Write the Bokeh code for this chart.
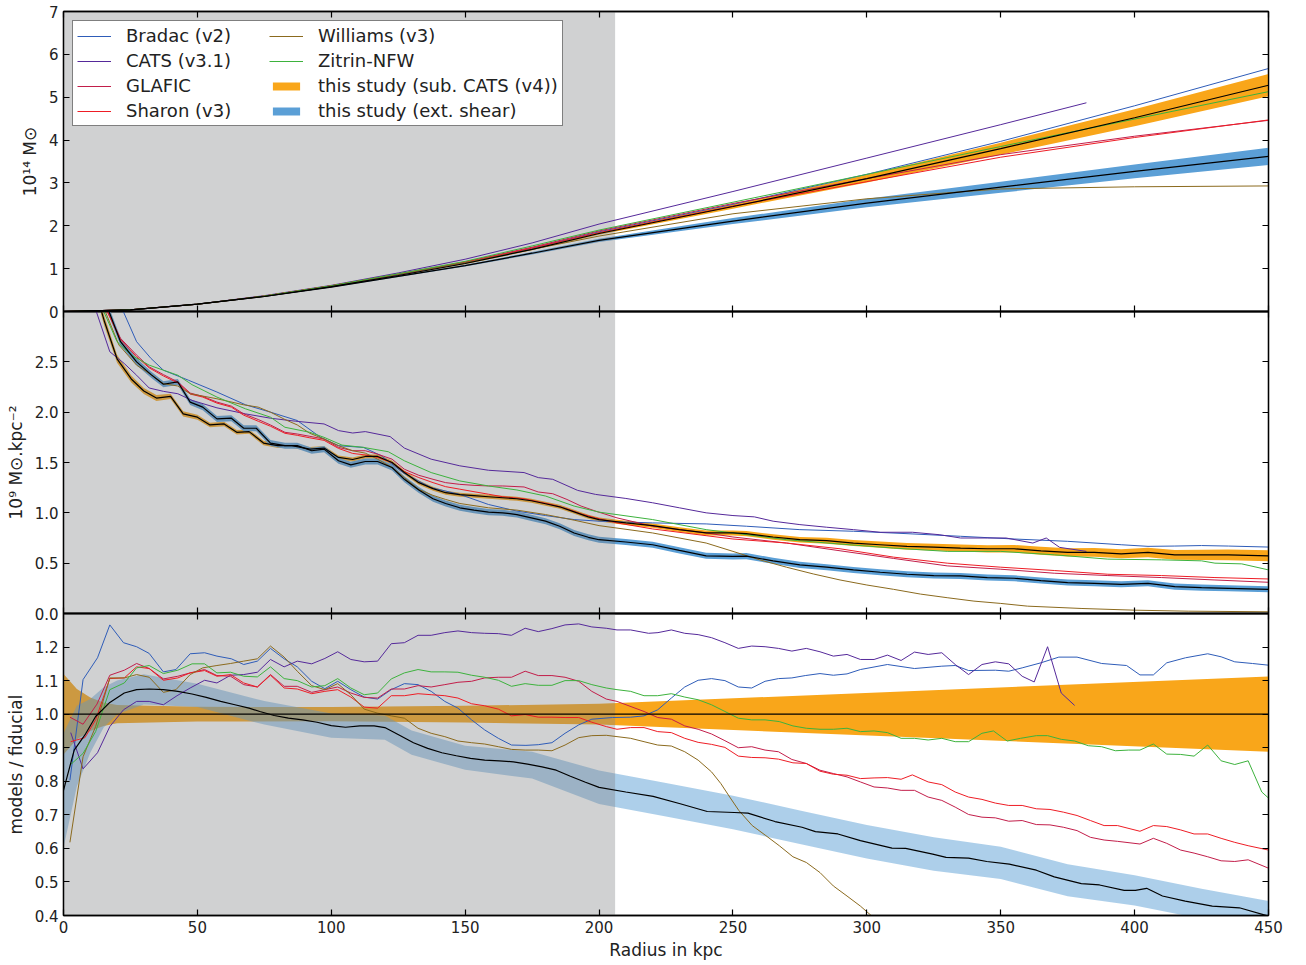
from bokeh.plotting import figure
from bokeh.models import (Range1d, LinearAxis, FixedTicker, Legend, LegendItem, PrintfTickFormatter,
                          CustomJSTickFormatter)
from bokeh.layouts import column
from bokeh.embed import file_html
from bokeh.resources import INLINE

# ---------------- data ----------------
X_TICKS = [0, 50, 100, 150, 200, 250, 300, 350, 400, 450]
SHADE_R = 206  # kpc, edge of the shaded inner region

TOP_Y = (0, 7)
TOP_TICKS = [0, 1, 2, 3, 4, 5, 6, 7]
MID_Y = (0, 3)
MID_TICKS = [0, 0.5, 1.0, 1.5, 2.0, 2.5]
BOT_Y = (0.4, 1.3)
BOT_TICKS = [0.4, 0.5, 0.6, 0.7, 0.8, 0.9, 1.0, 1.1, 1.2]

# --- top panel: enclosed mass (1e14 Msun) ---
R_TOP = [0, 25, 50, 75, 100, 125, 150, 175, 200, 250, 300, 350, 400, 450]
R_TOP_CATS = [0, 25, 50, 75, 100, 125, 150, 175, 200, 250, 300, 350, 382]
BRADAC_M = [0, 0.04, 0.17, 0.36, 0.59, 0.86, 1.14, 1.48, 1.86, 2.5, 3.2, 3.97, 4.8, 5.67]
CATS_M = [0, 0.04, 0.17, 0.37, 0.61, 0.9, 1.22, 1.6, 2.04, 2.8, 3.58, 4.36, 4.87]
GLAFIC_M = [0, 0.04, 0.17, 0.36, 0.6, 0.87, 1.16, 1.5, 1.88, 2.52, 3.1, 3.66, 4.09, 4.46]
SHARON_M = [0, 0.04, 0.17, 0.36, 0.6, 0.87, 1.15, 1.48, 1.84, 2.46, 3.03, 3.6, 4.06, 4.47]
WILLIAMS_M = [0, 0.04, 0.17, 0.36, 0.6, 0.87, 1.14, 1.45, 1.76, 2.28, 2.63, 2.86, 2.91, 2.93]
ZITRIN_M = [0, 0.04, 0.17, 0.36, 0.6, 0.88, 1.17, 1.53, 1.9, 2.55, 3.2, 3.85, 4.49, 5.13]
FID_M = [0, 0.04, 0.17, 0.35, 0.58, 0.84, 1.12, 1.45, 1.82, 2.45, 3.1, 3.8, 4.52, 5.28]
FID_M_ERR = [0, 0.003, 0.005, 0.008, 0.01, 0.013, 0.017, 0.022, 0.03, 0.05, 0.09, 0.14, 0.2, 0.26]
EXT_M = [0, 0.04, 0.17, 0.35, 0.57, 0.82, 1.07, 1.36, 1.66, 2.11, 2.53, 2.9, 3.27, 3.62]
EXT_M_ERR = [0, 0.003, 0.005, 0.008, 0.012, 0.016, 0.022, 0.03, 0.04, 0.07, 0.1, 0.13, 0.16, 0.2]

# --- middle panel: surface density (1e9 Msun/kpc^2), (r, value) ---
BRADAC_S = [(22, 3.02), (27.3, 2.7), (32.7, 2.533), (37.3, 2.417), (46.7, 2.317), (57.3, 2.2), (68, 2.073),
            (77.3, 2.0), (87.3, 1.917), (96, 1.75), (102.7, 1.667), (112, 1.65), (118.7, 1.567), (126.7, 1.4),
            (137.3, 1.25), (148, 1.183), (158.7, 1.083), (169.3, 1.017), (180, 0.973), (190.7, 0.933),
            (200, 0.917), (220, 0.9), (240, 0.89), (255, 0.867), (275, 0.833), (295, 0.817), (315, 0.793),
            (335, 0.767), (355, 0.74), (375, 0.717), (395, 0.683), (405, 0.667), (415, 0.67), (425, 0.675),
            (435, 0.67), (450, 0.66)]
CATS_S = [(12, 3.02), (17.3, 2.6), (22.7, 2.483), (27.3, 2.367), (32, 2.24), (37.3, 2.207), (42.7, 2.183),
          (48, 2.117), (57.3, 2.043), (68, 1.983), (77.3, 1.94), (86.7, 1.91), (97.3, 1.883), (102.7, 1.817),
          (108, 1.793), (112.7, 1.807), (122, 1.757), (127.3, 1.643), (137.3, 1.533), (148, 1.467),
          (158.7, 1.423), (172, 1.4), (177.3, 1.35), (182.7, 1.333), (192, 1.223), (198.7, 1.183),
          (210, 1.143), (220, 1.1), (230, 1.05), (240, 1.0), (250, 0.973), (258, 0.96), (265, 0.917),
          (275, 0.883), (285, 0.857), (295, 0.833), (305, 0.807), (317, 0.807), (327, 0.783), (335, 0.75),
          (345, 0.75), (352, 0.75), (362, 0.7), (367, 0.75), (372, 0.657), (382, 0.617)]
GLAFIC_S = [(16, 3.02), (21.3, 2.733), (27.3, 2.567), (32, 2.45), (37.3, 2.373), (42.7, 2.3), (47.3, 2.19),
            (52, 2.157), (57.3, 2.1), (62.7, 2.06), (67.3, 1.983), (72.7, 1.927), (77.3, 1.873), (82.7, 1.8),
            (87.3, 1.783), (92, 1.76), (97.3, 1.733), (102.7, 1.65), (108, 1.617), (112.7, 1.617),
            (117.3, 1.583), (122.7, 1.533), (127.3, 1.433), (132.7, 1.373), (138, 1.333), (142.7, 1.3),
            (148, 1.283), (153.3, 1.273), (158.7, 1.267), (164, 1.267), (172, 1.257), (177.3, 1.207),
            (182.7, 1.19), (188, 1.133), (193.3, 1.067), (198.7, 1.017), (206.7, 0.95), (220, 0.867),
            (240, 0.8), (250, 0.76), (270, 0.7), (290, 0.623), (310, 0.547), (330, 0.473), (350, 0.44),
            (370, 0.4), (390, 0.377), (410, 0.357), (430, 0.333), (450, 0.31)]
SHARON_S = [(16, 3.02), (21.3, 2.72), (27.3, 2.55), (32, 2.44), (37.3, 2.36), (42.7, 2.29), (47.3, 2.18),
            (52, 2.15), (57.3, 2.09), (62.7, 2.05), (67.3, 1.97), (72.7, 1.91), (77.3, 1.86), (82.7, 1.79),
            (87.3, 1.77), (92, 1.745), (97.3, 1.72), (102.7, 1.64), (108, 1.59), (112.7, 1.575),
            (117.3, 1.55), (122.7, 1.5), (127.3, 1.41), (132.7, 1.35), (138, 1.3), (142.7, 1.26),
            (148, 1.235), (153.3, 1.21), (158.7, 1.185), (164, 1.16), (172, 1.14), (177.3, 1.11),
            (182.7, 1.08), (188, 1.04), (193.3, 0.99), (198.7, 0.95), (206.7, 0.9), (220, 0.84),
            (240, 0.773), (250, 0.74), (270, 0.7), (290, 0.643), (310, 0.56), (330, 0.5), (350, 0.46),
            (370, 0.427), (390, 0.39), (410, 0.377), (430, 0.357), (450, 0.343)]
WILLIAMS_S = [(15.3, 3.02), (20.7, 2.667), (27.3, 2.467), (32.7, 2.373), (37.3, 2.283), (42.7, 2.26),
              (47.3, 2.183), (52, 2.16), (57.3, 2.133), (67.3, 2.073), (72.7, 2.05), (77.3, 2.0),
              (82.7, 1.927), (87.3, 1.873), (92, 1.79), (97.3, 1.733), (102.7, 1.667), (108, 1.617),
              (112.7, 1.593), (117.3, 1.533), (122.7, 1.45), (127.3, 1.35), (132.7, 1.233), (138, 1.173),
              (142.7, 1.133), (148, 1.093), (158.7, 1.05), (169.3, 1.027), (180, 0.983), (190.7, 0.927),
              (200, 0.873), (220, 0.8), (240, 0.7), (250, 0.617), (260, 0.533), (270, 0.46), (280, 0.393),
              (290, 0.333), (300, 0.283), (310, 0.24), (320, 0.193), (330, 0.157), (340, 0.123),
              (350, 0.1), (360, 0.073), (380, 0.05), (400, 0.033), (420, 0.023), (450, 0.017)]
ZITRIN_S = [(14.7, 3.02), (20, 2.7), (25.3, 2.567), (32, 2.467), (37.3, 2.417), (42.7, 2.367), (48, 2.273),
            (57.3, 2.15), (68, 2.033), (77.3, 1.95), (82.7, 1.85), (92, 1.8), (97.3, 1.75), (104, 1.673),
            (112, 1.65), (121.3, 1.607), (127.3, 1.517), (137.3, 1.4), (148, 1.317), (158.7, 1.267),
            (169.3, 1.227), (180, 1.167), (190.7, 1.067), (200, 1.007), (220, 0.933), (240, 0.833),
            (250, 0.8), (270, 0.733), (290, 0.69), (310, 0.65), (330, 0.617), (350, 0.617), (370, 0.583),
            (390, 0.54), (410, 0.533), (425, 0.523), (430, 0.5), (440, 0.493), (450, 0.433)]
# (r, value, band half-width)
FID_S = [(14, 3.02, 0.05), (15.3, 2.9, 0.05), (20, 2.53, 0.04), (25.3, 2.33, 0.035), (30, 2.21, 0.03),
         (34.7, 2.14, 0.03), (40, 2.157, 0.025), (44.7, 1.983, 0.025), (50, 1.95, 0.025), (54.7, 1.873, 0.022),
         (60, 1.883, 0.022), (64.7, 1.8, 0.022), (69.3, 1.807, 0.022), (74.7, 1.693, 0.022), (80, 1.667, 0.022),
         (85.3, 1.667, 0.022), (92, 1.633, 0.02), (97.3, 1.643, 0.02), (102.7, 1.55, 0.02), (108, 1.53, 0.02),
         (112.7, 1.56, 0.02), (117.3, 1.56, 0.02), (122.7, 1.5, 0.02), (127.3, 1.4, 0.02), (132.7, 1.3, 0.02),
         (138, 1.24, 0.02), (142.7, 1.2, 0.02), (148, 1.18, 0.02), (153.3, 1.17, 0.02), (158.7, 1.16, 0.02),
         (164, 1.15, 0.02), (169.3, 1.14, 0.02), (174.7, 1.12, 0.02), (180, 1.09, 0.02), (185.3, 1.06, 0.02),
         (190.7, 1.01, 0.02), (196, 0.96, 0.02), (200, 0.933, 0.02), (210, 0.9, 0.021), (220, 0.873, 0.022),
         (230, 0.833, 0.023), (240, 0.8, 0.024), (250, 0.8, 0.025), (255, 0.793, 0.026), (265, 0.76, 0.027),
         (275, 0.733, 0.028), (285, 0.723, 0.029), (295, 0.7, 0.03), (305, 0.683, 0.031), (315, 0.667, 0.033),
         (325, 0.66, 0.034), (335, 0.65, 0.035), (345, 0.643, 0.036), (355, 0.643, 0.038), (365, 0.623, 0.04),
         (375, 0.607, 0.041), (385, 0.607, 0.043), (395, 0.593, 0.045), (405, 0.607, 0.047),
         (415, 0.583, 0.049), (425, 0.583, 0.051), (435, 0.583, 0.053), (450, 0.573, 0.055)]
EXT_S = [(16.7, 3.02, 0.045), (21.3, 2.7, 0.04), (27.3, 2.5, 0.035), (32.7, 2.373, 0.03), (37.3, 2.277, 0.03),
         (42.7, 2.3, 0.03), (47.3, 2.1, 0.03), (52, 2.05, 0.03), (57.3, 1.933, 0.03), (62.7, 1.94, 0.03),
         (67.3, 1.84, 0.03), (72, 1.84, 0.03), (77.3, 1.693, 0.03), (82.7, 1.667, 0.03), (87.3, 1.667, 0.03),
         (92.7, 1.617, 0.03), (97.3, 1.633, 0.03), (102.7, 1.517, 0.03), (107.3, 1.477, 0.03),
         (112.7, 1.51, 0.03), (117.3, 1.51, 0.03), (122.7, 1.45, 0.03), (127.3, 1.333, 0.03),
         (132.7, 1.227, 0.03), (138, 1.14, 0.03), (142.7, 1.093, 0.03), (148, 1.05, 0.03), (153.3, 1.027, 0.03),
         (158.7, 1.007, 0.03), (164, 1.0, 0.03), (169.3, 0.983, 0.03), (174.7, 0.95, 0.03), (180, 0.917, 0.03),
         (185.3, 0.867, 0.03), (190.7, 0.8, 0.03), (196, 0.757, 0.03), (200, 0.733, 0.03), (210, 0.71, 0.03),
         (220, 0.683, 0.03), (230, 0.627, 0.03), (240, 0.573, 0.03), (250, 0.567, 0.03), (255, 0.57, 0.03),
         (265, 0.523, 0.03), (275, 0.483, 0.03), (285, 0.46, 0.03), (295, 0.433, 0.03), (305, 0.41, 0.03),
         (315, 0.39, 0.03), (325, 0.377, 0.03), (335, 0.373, 0.03), (345, 0.357, 0.03), (355, 0.35, 0.03),
         (365, 0.327, 0.03), (375, 0.307, 0.03), (385, 0.3, 0.03), (395, 0.29, 0.03), (405, 0.3, 0.03),
         (415, 0.267, 0.03), (425, 0.257, 0.03), (435, 0.25, 0.03), (450, 0.24, 0.03)]

# --- bottom panel: ratio models / fiducial, (r, value) ---
BRADAC_Q = [(2.4, 0.803), (7.3, 1.103), (12.7, 1.168), (17.3, 1.266), (22.4, 1.213), (27.3, 1.201), (32, 1.181),
            (37.3, 1.126), (42, 1.133), (47.3, 1.18), (52.7, 1.183), (57.3, 1.173), (62.7, 1.165), (67.3, 1.148),
            (72.4, 1.158), (77.3, 1.196), (82.4, 1.165), (87.3, 1.141), (92.7, 1.098), (97.6, 1.076),
            (102.4, 1.098), (107.3, 1.073), (112.3, 1.051), (117.3, 1.045), (122.4, 1.073), (127.3, 1.091),
            (132.4, 1.088), (137.3, 1.068), (142.4, 1.038), (147.3, 1.018), (152.4, 0.983), (157.3, 0.953),
            (162.4, 0.928), (167.3, 0.908), (172.7, 0.907), (177.3, 0.909), (182.4, 0.915), (187.3, 0.943),
            (192.4, 0.968), (197.3, 0.985), (205, 0.99), (211.8, 0.991), (216.8, 0.995), (221.9, 1.013),
            (227, 1.048), (232, 1.081), (237, 1.101), (242, 1.106), (247, 1.1), (252, 1.081), (257, 1.078),
            (262, 1.098), (267, 1.106), (272, 1.108), (277, 1.115), (282.5, 1.121), (287.5, 1.116),
            (292.6, 1.12), (297.6, 1.133), (307.7, 1.148), (317.8, 1.136), (328, 1.143), (333, 1.145),
            (338, 1.13), (348, 1.131), (353, 1.128), (358, 1.138), (365, 1.153), (371.7, 1.17), (378.5, 1.17),
            (387.7, 1.151), (397, 1.145), (402, 1.117), (407, 1.117), (412, 1.153), (419, 1.168),
            (427.3, 1.18), (432.3, 1.171), (437.4, 1.156), (444, 1.151), (450, 1.146)]
CATS_Q = [(2.7, 0.945), (7.3, 0.837), (12.7, 0.885), (17.3, 0.963), (22.4, 1.013), (27.3, 1.038), (32, 1.038),
          (37.3, 1.028), (42.4, 1.055), (47.3, 1.078), (52.7, 1.101), (57.3, 1.093), (62.4, 1.116),
          (67.3, 1.118), (72.4, 1.125), (77.3, 1.163), (82.4, 1.141), (87.3, 1.158), (92.7, 1.15),
          (97.6, 1.166), (102.4, 1.186), (107.3, 1.163), (112.3, 1.156), (117.3, 1.158), (122.4, 1.21),
          (127.3, 1.213), (132.4, 1.235), (137.3, 1.235), (142.4, 1.243), (147.3, 1.248), (152.4, 1.243),
          (157.3, 1.241), (162.4, 1.24), (167.3, 1.235), (172.4, 1.256), (177.3, 1.246), (182.4, 1.255),
          (187.3, 1.266), (192.4, 1.269), (197.3, 1.26), (202.7, 1.256), (206.7, 1.251), (211.8, 1.251),
          (218.5, 1.241), (222, 1.243), (227, 1.251), (232, 1.241), (237, 1.237), (242, 1.228), (247, 1.213),
          (252, 1.196), (257, 1.203), (262, 1.201), (267, 1.196), (272, 1.188), (277.4, 1.196),
          (282.5, 1.186), (287.5, 1.173), (292.6, 1.178), (297.6, 1.163), (302.7, 1.163), (307.7, 1.176),
          (312.8, 1.16), (317.8, 1.185), (322.9, 1.178), (328, 1.183), (333, 1.148), (338, 1.118),
          (343, 1.148), (348, 1.156), (353, 1.15), (358, 1.113), (362.5, 1.096), (367.5, 1.201),
          (372.6, 1.063), (377.6, 1.026)]
GLAFIC_Q = [(2.4, 0.991), (7.3, 0.97), (12.5, 1.03), (17.3, 1.116), (22.7, 1.131), (27.3, 1.151), (32, 1.136),
            (37.3, 1.105), (42.7, 1.113), (47.3, 1.123), (52.7, 1.133), (57.3, 1.115), (62.4, 1.113),
            (67.3, 1.088), (72.4, 1.081), (77.3, 1.118), (82.4, 1.083), (87.3, 1.083), (92.7, 1.065),
            (97.6, 1.073), (102.4, 1.081), (107.3, 1.063), (112.3, 1.05), (117.3, 1.048), (122.4, 1.075),
            (127.3, 1.075), (132.4, 1.085), (137.3, 1.081), (142.4, 1.088), (147.3, 1.095), (152.4, 1.098),
            (157.3, 1.108), (162.4, 1.11), (167.3, 1.11), (172.4, 1.128), (177.3, 1.115), (182.4, 1.115),
            (187.3, 1.11), (192.4, 1.098), (197.3, 1.068), (202.7, 1.045), (206.7, 1.038), (216.8, 1.008),
            (221.9, 0.99), (227, 0.985), (232, 0.965), (237, 0.955), (242, 0.941), (247, 0.921), (252, 0.9),
            (257, 0.903), (262, 0.893), (267, 0.888), (272, 0.865), (277.4, 0.853), (282.5, 0.833),
            (287.5, 0.823), (292.6, 0.813), (297.6, 0.798), (302.7, 0.783), (307.7, 0.78), (312.8, 0.773),
            (317.8, 0.773), (322.9, 0.753), (328, 0.743), (333, 0.723), (338, 0.701), (343, 0.693),
            (348, 0.691), (353, 0.681), (358, 0.683), (363.3, 0.671), (368.4, 0.67), (373.4, 0.663),
            (378.5, 0.653), (383.5, 0.633), (388.6, 0.625), (393.6, 0.621), (402, 0.613), (407, 0.63),
            (412, 0.615), (417.2, 0.595), (422.2, 0.586), (427.3, 0.575), (432.3, 0.563), (437.4, 0.561),
            (442.4, 0.566), (450, 0.541)]
SHARON_Q = [(2.7, 0.918), (8, 0.93), (12, 0.983), (17.3, 1.106), (22.7, 1.108), (27.3, 1.141), (32, 1.136),
            (37.3, 1.101), (42.7, 1.108), (47.3, 1.123), (52.7, 1.13), (57.3, 1.113), (62.4, 1.118),
            (67.3, 1.093), (72.4, 1.081), (77.3, 1.116), (82.4, 1.078), (87.3, 1.075), (92.7, 1.061),
            (97.6, 1.068), (102.4, 1.073), (107.3, 1.051), (112.3, 1.021), (117.3, 1.018), (122.4, 1.055),
            (127.3, 1.055), (132.4, 1.061), (137.3, 1.058), (142.4, 1.055), (147.3, 1.048), (152.4, 1.031),
            (157.3, 1.025), (162.4, 1.015), (167.3, 0.995), (172.4, 0.999), (177.3, 0.991), (182.4, 0.991),
            (187.3, 0.99), (192.4, 0.99), (197.3, 0.976), (202.7, 0.963), (206.7, 0.955), (211.8, 0.96),
            (216.8, 0.96), (221.9, 0.948), (227, 0.945), (232, 0.928), (237, 0.916), (242, 0.91), (247, 0.901),
            (252, 0.875), (257, 0.871), (262, 0.87), (267, 0.866), (272.4, 0.855), (277.4, 0.853),
            (282.5, 0.83), (287.5, 0.821), (292.6, 0.818), (297.6, 0.808), (302.7, 0.81), (307.7, 0.811),
            (312.8, 0.806), (317, 0.819), (322.9, 0.798), (328, 0.79), (333, 0.768), (338, 0.753),
            (343, 0.746), (348, 0.735), (353, 0.728), (358, 0.728), (363.3, 0.718), (368.4, 0.716),
            (373.4, 0.708), (378.5, 0.698), (383.5, 0.683), (388.6, 0.668), (393.6, 0.668), (402, 0.651),
            (407, 0.668), (412, 0.665), (417.2, 0.655), (422.2, 0.643), (427.3, 0.643), (432.3, 0.63),
            (437.4, 0.618), (442.4, 0.608), (450, 0.595)]
WILLIAMS_Q = [(2.4, 0.618), (7.3, 0.873), (12, 0.963), (17.3, 1.108), (22.7, 1.108), (27.3, 1.118), (32, 1.11),
              (37.3, 1.065), (42, 1.073), (47.3, 1.118), (52, 1.138), (57.3, 1.145), (62.4, 1.151),
              (67.3, 1.158), (72.4, 1.165), (77.3, 1.203), (82.4, 1.17), (87.3, 1.128), (92.7, 1.085),
              (97.6, 1.073), (102.4, 1.091), (107.3, 1.058), (112.3, 1.015), (117.3, 1.003), (122.4, 0.995),
              (127.3, 0.988), (132.4, 0.958), (137.3, 0.943), (142.4, 0.933), (147.3, 0.92), (152.4, 0.915),
              (157.3, 0.911), (162.4, 0.903), (167.3, 0.895), (172.4, 0.893), (177.3, 0.893), (182.4, 0.891),
              (187.3, 0.908), (192.4, 0.93), (197.3, 0.936), (202.7, 0.937), (211.8, 0.928), (216.8, 0.918),
              (221.9, 0.908), (227, 0.905), (232, 0.888), (237, 0.863), (242, 0.828), (245.5, 0.793),
              (248.8, 0.753), (252.2, 0.713), (257.2, 0.668), (262.3, 0.638), (267.3, 0.608), (272.4, 0.575),
              (277.4, 0.558), (282.5, 0.528), (287.5, 0.488), (292.6, 0.458), (297.6, 0.428), (301.9, 0.398)]
ZITRIN_Q = [(2.4, 0.848), (7.3, 0.883), (12, 0.948), (17.3, 1.073), (22.7, 1.093), (27.3, 1.138), (32, 1.145),
            (37.3, 1.121), (42.7, 1.131), (48, 1.15), (52.7, 1.15), (57.3, 1.123), (62.4, 1.125), (67.3, 1.113),
            (72.4, 1.111), (77.3, 1.141), (82.4, 1.106), (87.3, 1.1), (92.7, 1.081), (97.6, 1.085),
            (102.4, 1.106), (107.3, 1.078), (112.3, 1.058), (117.3, 1.063), (122.4, 1.105), (127.3, 1.123),
            (132.4, 1.133), (137.3, 1.126), (142.4, 1.126), (147.3, 1.125), (152.4, 1.116), (157.3, 1.11),
            (162.4, 1.101), (167.3, 1.083), (172.4, 1.091), (177.3, 1.086), (182.4, 1.086), (187.3, 1.1),
            (192.4, 1.1), (197.3, 1.088), (202.7, 1.078), (206.7, 1.073), (211.8, 1.068), (216.8, 1.055),
            (221.9, 1.055), (227, 1.061), (232, 1.051), (237, 1.043), (242, 1.028), (247, 1.008), (252, 0.988),
            (257, 0.983), (262, 0.983), (267.3, 0.978), (272.4, 0.965), (277.4, 0.958), (282.5, 0.955),
            (287.5, 0.955), (292.6, 0.958), (297.6, 0.948), (302.7, 0.95), (307.7, 0.945), (312.8, 0.928),
            (317.8, 0.928), (322.9, 0.923), (328, 0.928), (333, 0.918), (338, 0.918), (343, 0.943),
            (347.3, 0.95), (352.4, 0.92), (357.4, 0.928), (363.3, 0.936), (367.5, 0.936), (372.6, 0.925),
            (377.6, 0.92), (382.7, 0.906), (387.7, 0.903), (392.8, 0.891), (397.8, 0.893), (402, 0.893),
            (407, 0.911), (412, 0.881), (417.2, 0.88), (422.2, 0.875), (427.3, 0.908), (432.3, 0.861),
            (437.4, 0.85), (442.4, 0.861), (447.5, 0.768), (450, 0.75)]
EXT_Q = [(0, 0.773), (4, 0.893), (8, 0.938), (12, 0.993), (17.3, 1.035), (22.7, 1.063), (27.3, 1.073), (32, 1.075),
         (37.3, 1.073), (42.7, 1.068), (48, 1.06), (53.3, 1.05), (58.7, 1.038), (64, 1.028), (69.3, 1.018),
         (73.3, 1.008), (78.7, 0.996), (84, 0.988), (89.3, 0.983), (94.7, 0.976), (100, 0.966), (105.3, 0.961),
         (110.7, 0.965), (116, 0.965), (120, 0.96), (125.3, 0.938), (130.7, 0.915), (136, 0.898), (141.3, 0.885),
         (146.7, 0.876), (152, 0.868), (157.3, 0.863), (162.7, 0.861), (168, 0.858), (173.3, 0.851),
         (178.7, 0.843), (184, 0.833), (189.3, 0.815), (194.7, 0.798), (200, 0.782), (210, 0.768),
         (220.2, 0.755), (230.3, 0.733), (240.4, 0.71), (250.5, 0.707), (255.6, 0.705), (265.7, 0.68),
         (275.8, 0.663), (280.8, 0.65), (289.2, 0.643), (297.6, 0.623), (309.4, 0.601), (314.5, 0.6),
         (324.6, 0.583), (329.6, 0.573), (338, 0.571), (344.8, 0.561), (353.2, 0.553), (363.3, 0.535),
         (370, 0.515), (380.1, 0.495), (386.9, 0.491), (396.1, 0.475), (400.3, 0.475), (404.5, 0.481),
         (410.4, 0.458), (418.9, 0.443), (429, 0.428), (439.1, 0.423), (450, 0.398)]
FID_Q = [(0, 1.0), (450, 1.0)]
# ratio bands: (r, low, high)
FID_Q_BAND = [(0, 0.88, 1.12), (5, 0.925, 1.075), (10, 0.95, 1.05), (15, 0.965, 1.035), (20, 0.973, 1.027),
              (50, 0.978, 1.022), (100, 0.979, 1.021), (150, 0.975, 1.025), (200, 0.969, 1.031),
              (450, 0.888, 1.112)]
EXT_Q_BAND = [(0, 0.603, 0.943), (5, 0.785, 1.025), (10, 0.885, 1.045), (15, 0.96, 1.08), (20, 1.0, 1.1),
              (30, 1.029, 1.119), (50, 1.021, 1.091), (75, 0.969, 1.039), (100, 0.93, 1.002), (120, 0.924, 0.996),
              (130, 0.879, 0.951), (150, 0.834, 0.906), (175, 0.808, 0.888), (200, 0.732, 0.832),
              (225, 0.695, 0.795), (250, 0.657, 0.757), (275, 0.613, 0.713), (300, 0.57, 0.67),
              (325, 0.533, 0.633), (350, 0.509, 0.605), (375, 0.457, 0.553), (400, 0.43, 0.52),
              (425, 0.39, 0.48), (450, 0.353, 0.443)]

LABELS = ["Bradac (v2)", "CATS (v3.1)", "GLAFIC", "Sharon (v3)", "Williams (v3)", "Zitrin-NFW",
          "this study (sub. CATS (v4))", "this study (ext. shear)"]

# ---------------- styling ----------------
FONT = "DejaVu Sans"
C_BRADAC = "#2E5CB8"
C_CATS = "#55299A"
C_GLAFIC = "#C21E4A"
C_SHARON = "#EE1D25"
C_WILLIAMS = "#8B6A1E"
C_ZITRIN = "#3DB23D"
C_ORANGE = "#F9A61A"
C_BLUE = "#5B9FD6"
C_SHADE = "#7F8185"
SHADE_ALPHA = 0.37
W = 1298
LW = 1.0
OVER = 9  # px each figure extends past a shared frame edge


def cols(pairs, k):
    return [p[k] for p in pairs]


def style_axis(ax, labels, ticks, fmt=None):
    ax.ticker = FixedTicker(ticks=ticks)
    ax.major_tick_in = 6
    ax.major_tick_out = 0
    ax.minor_tick_line_color = None
    ax.major_tick_line_color = "black"
    ax.major_tick_line_width = 1.2
    ax.axis_line_color = "black"
    ax.axis_line_width = 1.3
    if labels:
        if fmt is not None:
            ax.formatter = fmt
        ax.major_label_text_font = FONT
        ax.major_label_text_font_size = "15px"
        ax.major_label_text_color = "#222222"
        ax.major_label_standoff = 5
    else:
        ax.formatter = CustomJSTickFormatter(code="return ''")
        ax.major_label_text_font_size = "0px"
        ax.major_label_standoff = 0


def panel(height, yr, yticks, ylabel, fmt, mb_top, mb_bottom, xlabels, shift):
    p = figure(width=W, height=height, x_range=Range1d(0, 450), y_range=Range1d(*yr),
               output_backend="svg", toolbar_location=None,
               min_border_left=63, min_border_right=30, min_border_top=mb_top, min_border_bottom=mb_bottom,
               border_fill_alpha=0, background_fill_alpha=0, margin=(shift, 0, 0, 0))
    p.grid.visible = False
    p.outline_line_color = "black"
    p.outline_line_width = 1.3
    xb = p.below[0]
    yl = p.left[0]
    style_axis(xb, xlabels, X_TICKS)
    style_axis(yl, True, yticks, fmt)
    yl.axis_label = ylabel
    yl.axis_label_text_font = FONT
    yl.axis_label_text_font_size = "17px"
    yl.axis_label_text_font_style = "normal"
    yl.axis_label_text_color = "#222222"
    yl.axis_label_standoff = 6
    top = LinearAxis()
    style_axis(top, False, X_TICKS)
    p.add_layout(top, "above")
    right = LinearAxis()
    style_axis(right, False, yticks)
    p.add_layout(right, "right")
    return p, xb


def shade(p, yr):
    p.varea(x=[0, SHADE_R], y1=[yr[0], yr[0]], y2=[yr[1], yr[1]], fill_color=C_SHADE, fill_alpha=SHADE_ALPHA)


# ---------------- top panel ----------------
p1, _ = panel(11 + 300 + OVER, TOP_Y, TOP_TICKS, "10¹⁴ M⊙", None, 11, OVER, False, 0)
fid_top = p1.varea(x=R_TOP, y1=[v - e for v, e in zip(FID_M, FID_M_ERR)],
                   y2=[v + e for v, e in zip(FID_M, FID_M_ERR)], fill_color=C_ORANGE)
ext_top = p1.varea(x=R_TOP, y1=[v - e for v, e in zip(EXT_M, EXT_M_ERR)],
                   y2=[v + e for v, e in zip(EXT_M, EXT_M_ERR)], fill_color=C_BLUE)
shade(p1, TOP_Y)
rb = p1.line(R_TOP, BRADAC_M, line_color=C_BRADAC, line_width=LW)
rc = p1.line(R_TOP_CATS, CATS_M, line_color=C_CATS, line_width=LW)
rg = p1.line(R_TOP, GLAFIC_M, line_color=C_GLAFIC, line_width=LW)
rs = p1.line(R_TOP, SHARON_M, line_color=C_SHARON, line_width=LW)
rw = p1.line(R_TOP, WILLIAMS_M, line_color=C_WILLIAMS, line_width=LW)
rz = p1.line(R_TOP, ZITRIN_M, line_color=C_ZITRIN, line_width=LW)
p1.line(R_TOP, FID_M, line_color="black", line_width=1.2)
p1.line(R_TOP, EXT_M, line_color="black", line_width=1.2)

legend = Legend(items=[LegendItem(label=l, renderers=[r]) for l, r in
                       zip(LABELS, [rb, rc, rg, rs, rw, rz, fid_top, ext_top])],
                location="top_left", orientation="vertical", nrows=4,
                label_text_font=FONT, label_text_font_size="18px", label_text_color="#222222",
                glyph_width=34, glyph_height=10, label_height=20, label_width=139, label_standoff=15,
                spacing=4, padding=4, margin=9,
                border_line_color="black", border_line_width=1, background_fill_color="white",
                background_fill_alpha=1.0)
p1.add_layout(legend)

# ---------------- middle panel ----------------
p2, _ = panel(OVER + 302 + OVER, MID_Y, MID_TICKS, "10⁹ M⊙.kpc⁻²", PrintfTickFormatter(format="%.1f"),
              OVER, OVER, False, -2 * OVER)
p2.varea(x=cols(FID_S, 0), y1=[v - e for _, v, e in FID_S], y2=[v + e for _, v, e in FID_S], fill_color=C_ORANGE)
p2.varea(x=cols(EXT_S, 0), y1=[v - e for _, v, e in EXT_S], y2=[v + e for _, v, e in EXT_S], fill_color=C_BLUE)
shade(p2, MID_Y)
for data, c in [(BRADAC_S, C_BRADAC), (CATS_S, C_CATS), (GLAFIC_S, C_GLAFIC), (SHARON_S, C_SHARON),
                (WILLIAMS_S, C_WILLIAMS), (ZITRIN_S, C_ZITRIN)]:
    p2.line(cols(data, 0), cols(data, 1), line_color=c, line_width=LW)
p2.line(cols(FID_S, 0), cols(FID_S, 1), line_color="black", line_width=1.2)
p2.line(cols(EXT_S, 0), cols(EXT_S, 1), line_color="black", line_width=1.2)

# ---------------- bottom panel ----------------
p3, xb3 = panel(OVER + 302 + 48, BOT_Y, BOT_TICKS, "models / fiducial", PrintfTickFormatter(format="%.1f"),
                OVER, 48, True, -2 * OVER)
xb3.axis_label = "Radius in kpc"
xb3.axis_label_text_font = FONT
xb3.axis_label_text_font_size = "17px"
xb3.axis_label_text_font_style = "normal"
xb3.axis_label_text_color = "#222222"
xb3.axis_label_standoff = 4
p3.varea(x=cols(FID_Q_BAND, 0), y1=cols(FID_Q_BAND, 1), y2=cols(FID_Q_BAND, 2), fill_color=C_ORANGE)
p3.varea(x=cols(EXT_Q_BAND, 0), y1=cols(EXT_Q_BAND, 1), y2=cols(EXT_Q_BAND, 2), fill_color=C_BLUE,
         fill_alpha=0.5)
shade(p3, BOT_Y)
for data, c in [(BRADAC_Q, C_BRADAC), (CATS_Q, C_CATS), (GLAFIC_Q, C_GLAFIC), (SHARON_Q, C_SHARON),
                (WILLIAMS_Q, C_WILLIAMS), (ZITRIN_Q, C_ZITRIN)]:
    p3.line(cols(data, 0), cols(data, 1), line_color=c, line_width=LW)
p3.line(cols(FID_Q, 0), cols(FID_Q, 1), line_color="black", line_width=1.2)
p3.line(cols(EXT_Q, 0), cols(EXT_Q, 1), line_color="black", line_width=1.2)

layout = column(p1, p2, p3, spacing=0)
open("out.html", "w").write(file_html(layout, INLINE))
